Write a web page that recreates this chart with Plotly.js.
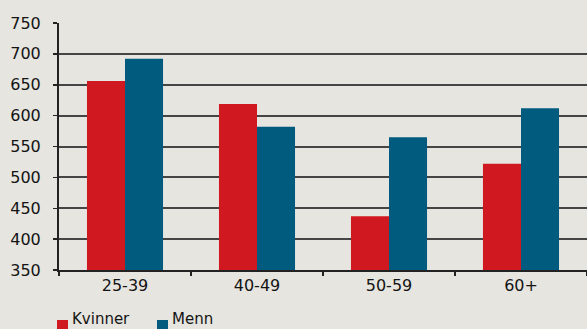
<!DOCTYPE html>
<html>
<head>
<meta charset="utf-8">
<script src="https://cdn.plot.ly/plotly-3.0.1.min.js"></script>
<style>
  html, body { margin: 0; padding: 0; background: #e6e5df; }
  #chart { width: 587px; height: 329px; }
</style>
</head>
<body>
<div id="chart"></div>
<script>
// Age groups on the x axis
const ageGroups = ['25-39', '40-49', '50-59', '60+'];
// Series names and values
const seriesNames = ['Kvinner', 'Menn'];
const kvinner = [656, 619, 437, 522];
const menn = [692, 582, 565, 612];
// Y axis ticks
const yTicks = [350, 400, 450, 500, 550, 600, 650, 700, 750];

const axisFloor = yTicks[0];
const colors = ['#cf1820', '#005b7f'];
const font = 'DejaVu Sans, Verdana, sans-serif';
const textColor = '#141414';

// Bars rise from the axis floor: base + size = value
const traces = [kvinner, menn].map((vals, i) => ({
  type: 'bar',
  name: seriesNames[i],
  x: ageGroups,
  y: vals.map(v => v - axisFloor),
  base: axisFloor,
  marker: { color: colors[i], line: { width: 0 } },
  showlegend: false,
  hoverinfo: 'skip'
}));

// Legend drawn as small squares with labels below the plot
const shapes = [];
const annotations = [];
const legendX = [57, 157];
const px = x => (x - 59) / 528;       // paper x from pixel
const py = y => (270 - y) / 247;      // paper y from pixel
seriesNames.forEach((name, i) => {
  shapes.push({
    type: 'rect', xref: 'paper', yref: 'paper',
    x0: px(legendX[i]), x1: px(legendX[i] + 11),
    y0: py(320), y1: py(330),
    fillcolor: colors[i], line: { width: 0 }
  });
  annotations.push({
    xref: 'paper', yref: 'paper',
    x: px(legendX[i] + 13), y: py(330),
    xanchor: 'left', yanchor: 'bottom',
    text: name, showarrow: false,
    font: { family: font, size: 15, color: textColor }
  });
});

const layout = {
  width: 587,
  height: 329,
  margin: { l: 59, r: 0, t: 23, b: 59, pad: 0 },
  paper_bgcolor: '#e6e5df',
  plot_bgcolor: '#e6e5df',
  barmode: 'group',
  bargap: 0.424,
  bargroupgap: 0,
  font: { family: font, size: 16, color: textColor },
  xaxis: {
    type: 'category',
    showline: true, linecolor: '#222', linewidth: 2,
    ticks: 'outside', tickson: 'boundaries', ticklen: 4, tickcolor: '#222', tickwidth: 1.5,
    showgrid: false,
    tickfont: { family: font, size: 16, color: textColor },
    fixedrange: true
  },
  yaxis: {
    range: [axisFloor, yTicks[yTicks.length - 1]],
    tickvals: yTicks,
    showline: true, linecolor: '#222', linewidth: 2,
    ticks: 'outside', ticklen: 4, tickcolor: '#222', tickwidth: 1.5,
    showgrid: true, gridcolor: '#454545', gridwidth: 2,
    zeroline: false,
    ticklabelstandoff: 9,
    tickfont: { family: font, size: 16, color: textColor },
    fixedrange: true
  },
  shapes: shapes,
  annotations: annotations,
  showlegend: false
};

Plotly.newPlot('chart', traces, layout, { displayModeBar: false, staticPlot: true });
</script>
</body>
</html>
